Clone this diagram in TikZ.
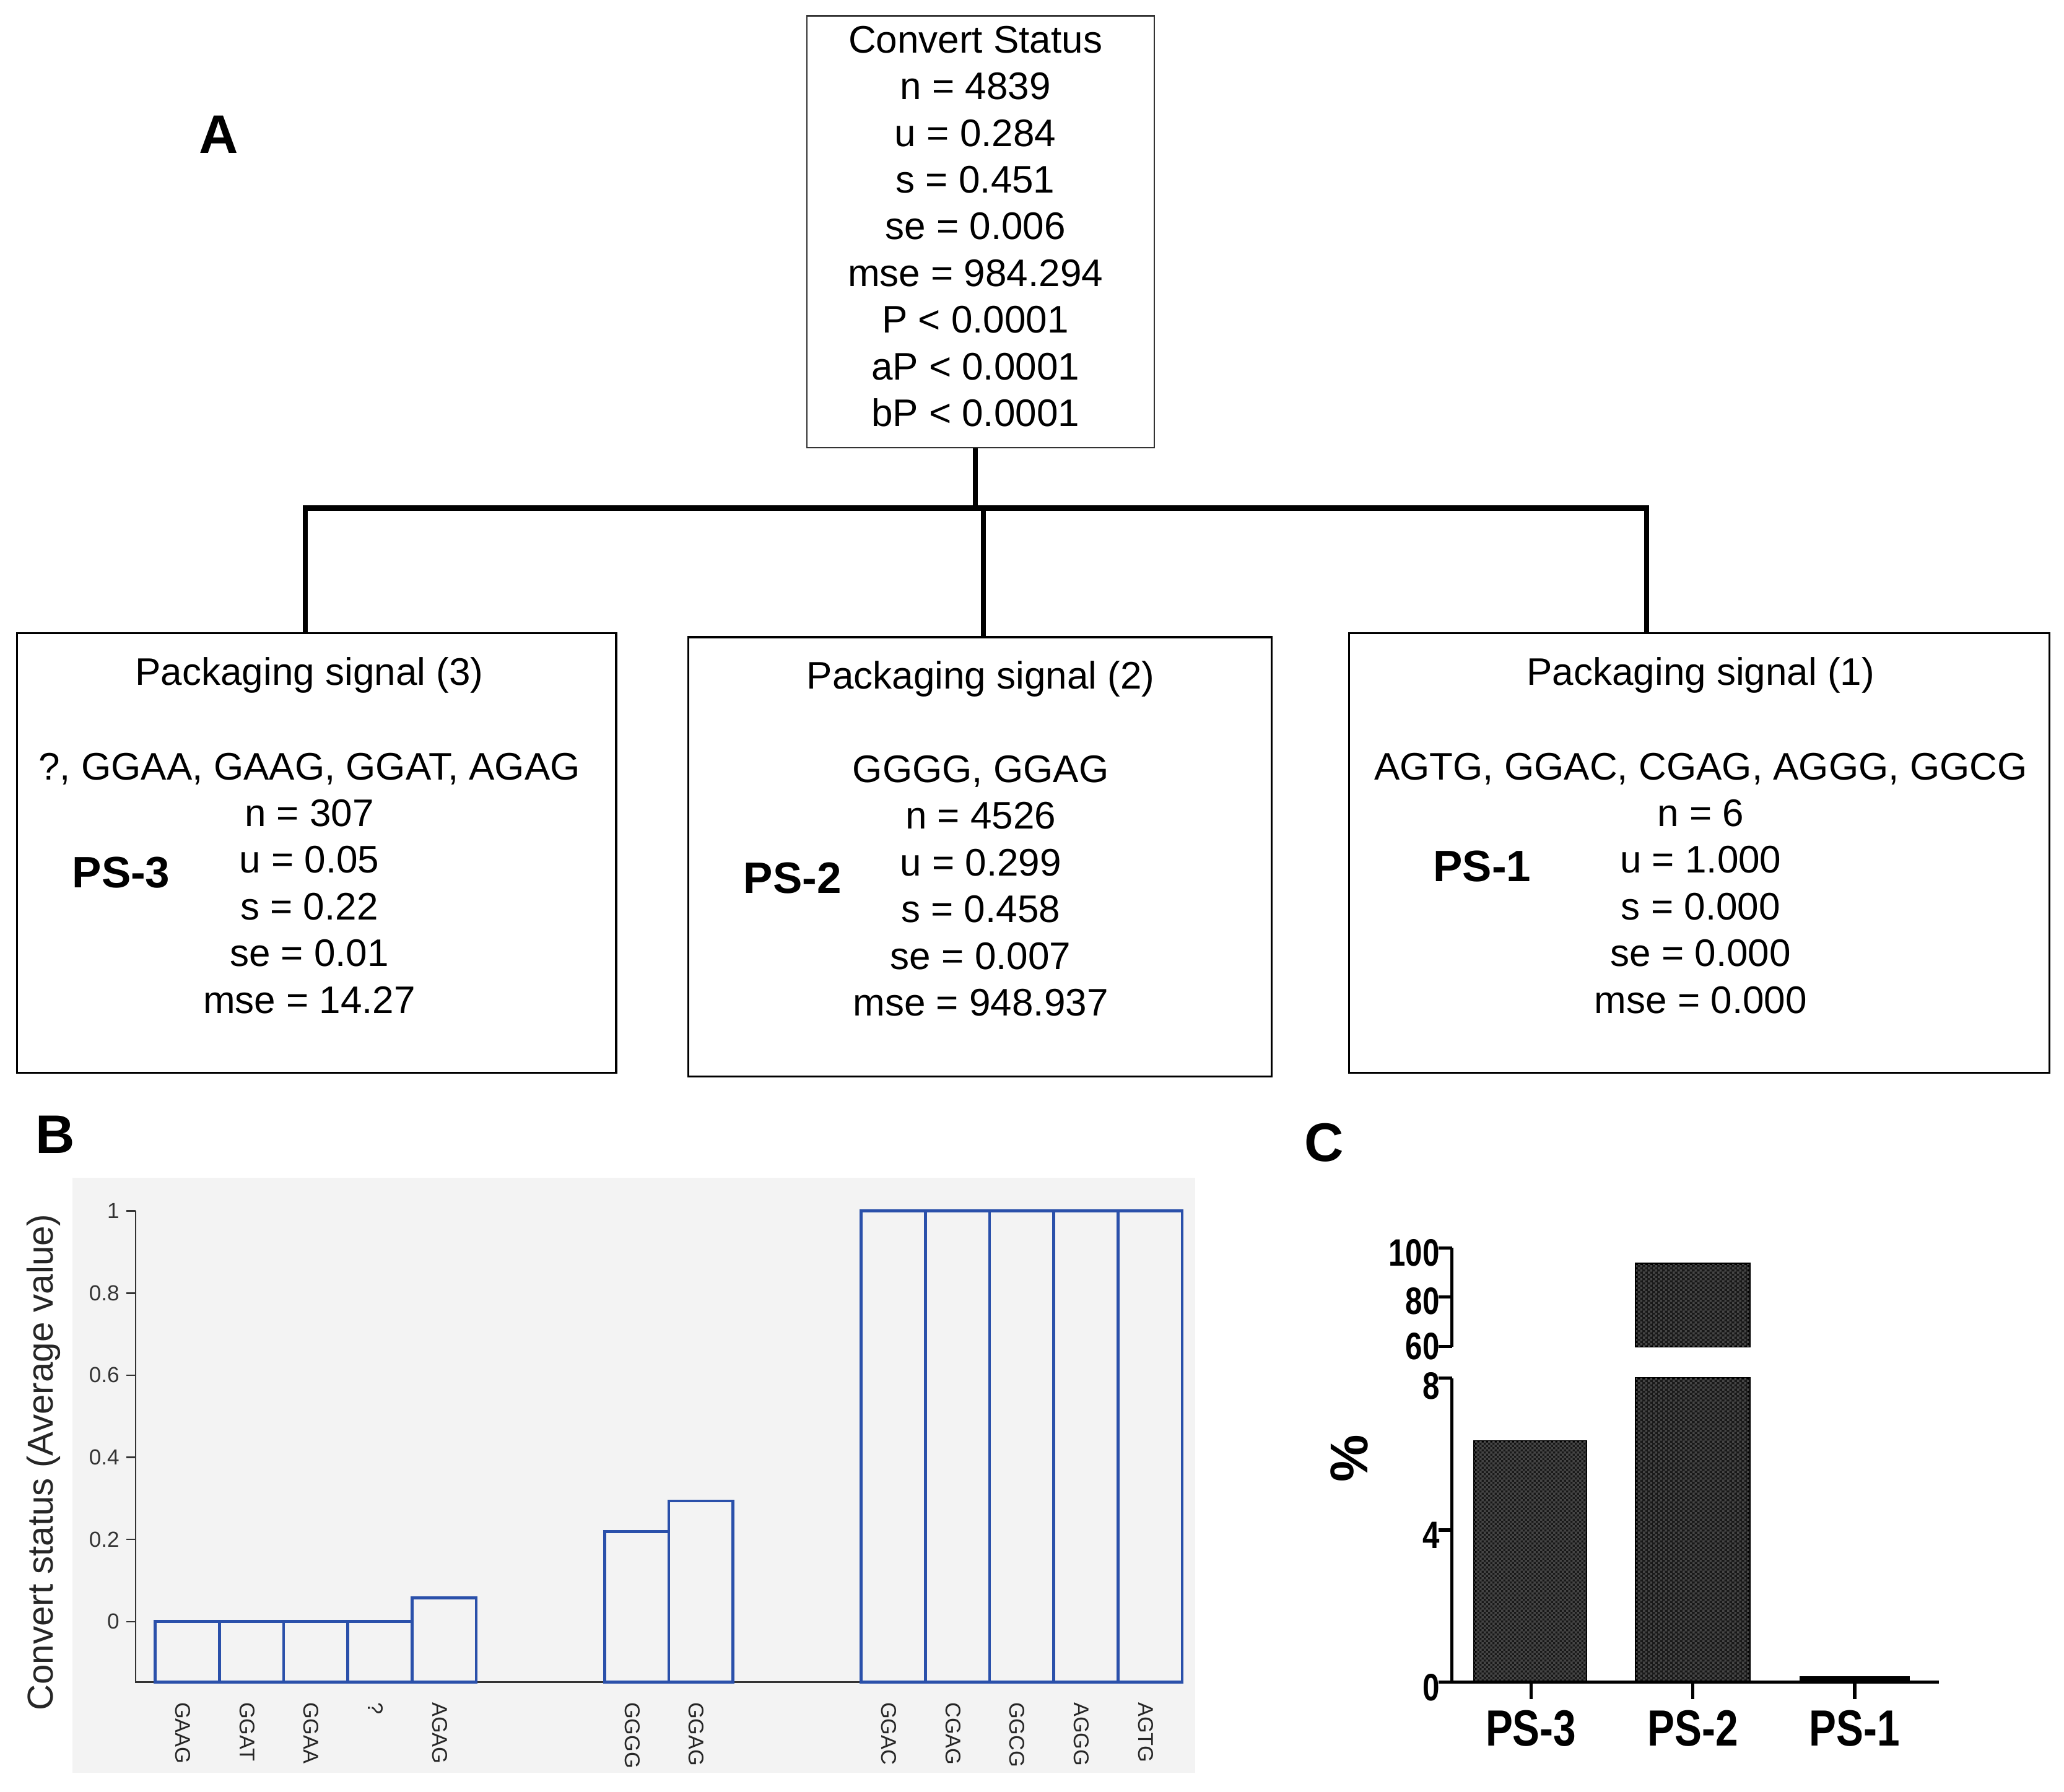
\documentclass[tikz,border=0pt]{standalone}
\usepackage{fontspec}
\setmainfont{Liberation Sans}
\newfontfamily\narrowfont[FakeStretch=0.8]{Liberation Sans}
\usetikzlibrary{patterns,positioning}

\definecolor{barblue}{RGB}{42,80,170}
\definecolor{panelgray}{RGB}{243,243,243}
\definecolor{checkdark}{RGB}{24,24,24}
\definecolor{checklight}{RGB}{70,70,70}

\newcommand{\boxfont}{\fontsize{16.6pt}{20.2pt}\selectfont}

\pgfdeclarepatternformonly{finecheck}{\pgfpointorigin}{\pgfqpoint{2pt}{2pt}}{\pgfqpoint{2pt}{2pt}}{%
        \pgfpathrectangle{\pgfpointorigin}{\pgfqpoint{1.05pt}{1.05pt}}%
        \pgfpathrectangle{\pgfqpoint{1pt}{1pt}}{\pgfqpoint{1.05pt}{1.05pt}}%
        \pgfusepath{fill}}

\tikzset{
        treebox/.style={draw=black!80, line width=0.6pt, inner sep=0pt},
        psbox/.style={draw=black, line width=0.9pt, minimum height=66.8mm, inner sep=0pt},
        boxtext/.style={align=center, font=\boxfont, inner sep=0pt},
        pslabel/.style={font=\fontsize{19pt}{22pt}\selectfont\bfseries},
        branch/.style={line width=2.2pt},
        panellabel/.style={font=\fontsize{23.5pt}{26pt}\selectfont\bfseries},
        blueline/.style={draw=barblue, line width=1.25pt},
        baxis/.style={draw=black!80, line width=0.7pt},
        seqlabel/.style={rotate=-90, anchor=west, inner sep=0pt, text=black!85, font=\fontsize{9.2pt}{10pt}\selectfont},
        bnum/.style={anchor=east, inner sep=0pt, text=black!80, font=\fontsize{9.4pt}{10pt}\selectfont},
        caxis/.style={draw=black, line width=1.4pt},
        cnum/.style={anchor=east, inner sep=0pt, font=\fontsize{16.5pt}{17pt}\narrowfont\bfseries},
        cname/.style={font=\fontsize{22pt}{24pt}\narrowfont\bfseries},
        cbar/.style={draw=black, line width=1pt, fill=checkdark, postaction={pattern=finecheck, pattern color=checklight}}
}

\begin{document}
\begin{tikzpicture}[x=0.2mm, y=-0.2mm]
        \useasboundingbox (0,0) rectangle (1568,1361);

        % A: tree
        \node[panellabel] (labA) at (166,102) {A};
        \node[treebox, minimum width=52.8mm, minimum height=65.6mm] (root) at (745,176) {};
        \node[boxtext] (roottext) at (741,172)
                {Convert Status\\ n = 4839\\ u = 0.284\\ s = 0.451\\ se = 0.006\\ mse = 984.294\\ P < 0.0001\\ aP < 0.0001\\ bP < 0.0001};

        \node[psbox, minimum width=91mm] (ps3box) at (240.5,648) {};
        \node[psbox, minimum width=88.6mm] (ps2box) at (744.5,651) {};
        \node[psbox, minimum width=106.4mm] (ps1box) at (1291,648) {};

        \node[boxtext] (ps3title) at (235,513) {Packaging signal (3)};
        \node[boxtext] (ps3stats) at (235,671) {?, GGAA, GAAG, GGAT, AGAG\\ n = 307\\ u = 0.05\\ s = 0.22\\ se = 0.01\\ mse = 14.27};
        \node[pslabel] (ps3name) at (92,663) {PS-3};

        \node[boxtext] (ps2title) at (745,516) {Packaging signal (2)};
        \node[boxtext] (ps2stats) at (745,673) {GGGG, GGAG\\ n = 4526\\ u = 0.299\\ s = 0.458\\ se = 0.007\\ mse = 948.937};
        \node[pslabel] (ps2name) at (602,667) {PS-2};

        \node[boxtext] (ps1title) at (1292,513) {Packaging signal (1)};
        \node[boxtext] (ps1stats) at (1292,671) {AGTG, GGAC, CGAG, AGGG, GGCG\\ n = 6\\ u = 1.000\\ s = 0.000\\ se = 0.000\\ mse = 0.000};
        \node[pslabel] (ps1name) at (1126,658) {PS-1};

        \coordinate (split) at (741,386);
        \coordinate (leftdrop) at (232,386);
        \coordinate (middrop) at (747,386);
        \coordinate (rightdrop) at (1251,386);
        \draw[branch] (root.south -| split) -- (split);
        \draw[branch] (leftdrop |- ps3box.north) -- (leftdrop) -- (rightdrop) -- (rightdrop |- ps1box.north);
        \draw[branch] (middrop) -- (middrop |- ps2box.north);

        % B: average value per motif
        \node[panellabel] (labB) at (42,862) {B};
        \fill[panelgray] (55,895) rectangle (908,1347);
        \draw[baxis] (103,920) -- (103,1278) -- (898,1278);
        \foreach \v in {0,0.2,0.4,0.6,0.8,1}
        {
                \draw[baxis] (96,1232-312*\v) -- (103,1232-312*\v);
                \node[bnum] at (91,1232-312*\v) {\v};
        }
        \foreach \s/\v/\m in {0/0/GAAG, 1/0/GGAT, 2/0/GGAA, 3/0/?, 4/0.058/AGAG, 7/0.219/GGGG, 8/0.294/GGAG,
                11/1/GGAC, 12/1/CGAG, 13/1/GGCG, 14/1/AGGG, 15/1/AGTG}
        {
                \draw[blueline] (118+48.75*\s,1278) rectangle (118+48.75*\s+48.75,1232-312*\v);
                \node[seqlabel] at (118+48.75*\s+21,1293) {\m};
        }
        \node[rotate=90, text=black!85, font=\fontsize{15.6pt}{17pt}\selectfont] (ylab) at (33,1111) {Convert status (Average value)};

        % C: share of each signal
        \node[panellabel] (labC) at (1006,868) {C};
        \draw[cbar] (1120,1278) rectangle (1205,1094.9);
        \draw[cbar] (1243,1278) rectangle (1329,1047);
        \draw[cbar] (1243,1023) rectangle (1329,960.2);
        \fill[black] (1367,1278) rectangle (1451,1273.5);
        \draw[caxis] (1103,948) -- (1103,1023);
        \draw[caxis] (1103,1047) -- (1103,1278) -- (1473,1278);
        \foreach \v/\yy/\dy in {0/1278/4, 4/1162.5/4, 8/1047/6, 60/1023/0, 80/985.5/3, 100/948/4}
        {
                \draw[caxis] (1093,\yy) -- (1103,\yy);
                \node[cnum] at (1094,\yy+\dy) {\v};
        }
        \foreach \xx/\p in {1163/3, 1286/2, 1409/1}
        {
                \draw[caxis] (\xx,1278) -- (\xx,1291);
                \node[cname] at (\xx,1313) {PS-\p};
        }
        \node[rotate=90, font=\fontsize{23pt}{25pt}\selectfont\bfseries] (pct) at (1025,1108) {\%};
\end{tikzpicture}
\end{document}
